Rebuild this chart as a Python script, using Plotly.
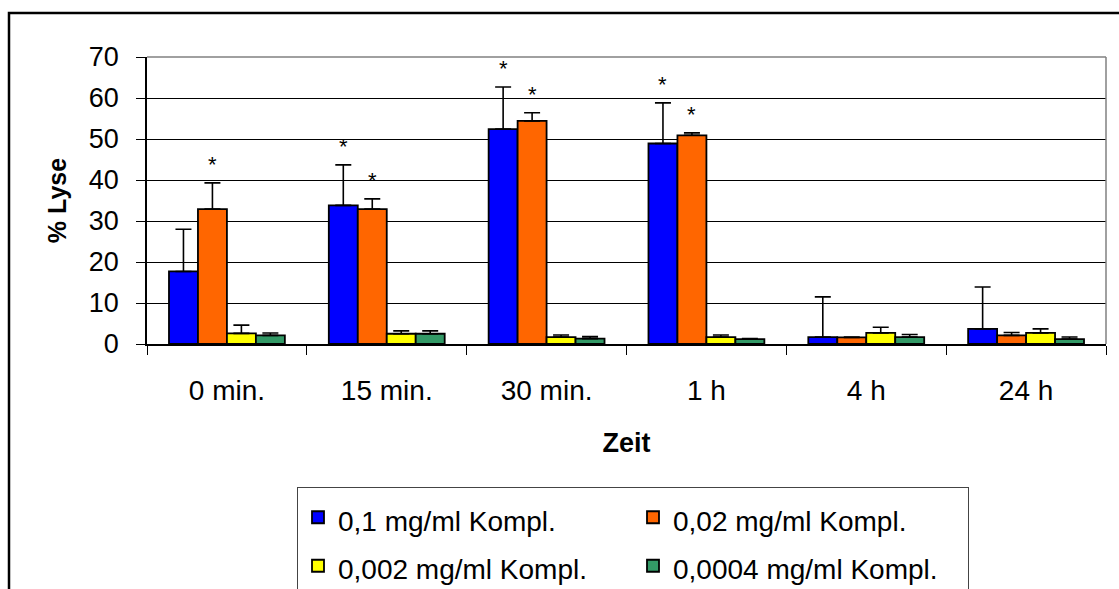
import plotly.graph_objects as go

categories = ["0 min.", "15 min.", "30 min.", "1 h", "4 h", "24 h"]
series_names = ["0,1 mg/ml Kompl.", "0,02 mg/ml Kompl.", "0,002 mg/ml Kompl.", "0,0004 mg/ml Kompl."]
colors = ["#0000FF", "#FF6600", "#FFFF00", "#339966"]

v_01 = [17.7, 33.8, 52.4, 48.9, 1.7, 3.7]
e_01 = [10.3, 9.9, 10.3, 9.9, 9.8, 10.2]
v_002 = [32.9, 32.9, 54.4, 50.9, 1.6, 2.1]
e_002 = [6.4, 2.5, 2.0, 0.6, 0.1, 0.7]
v_0002 = [2.6, 2.5, 1.7, 1.7, 2.7, 2.7]
e_0002 = [2.0, 0.7, 0.5, 0.5, 1.4, 1.0]
v_00004 = [2.1, 2.5, 1.3, 1.2, 1.7, 1.2]
e_00004 = [0.6, 0.7, 0.5, 0.1, 0.6, 0.5]

star_01 = [False, True, True, True, False, False]
star_002 = [True, True, True, True, False, False]
star_0002 = [False] * 6
star_00004 = [False] * 6

values = [v_01, v_002, v_0002, v_00004]
errors = [e_01, e_002, e_0002, e_00004]
stars = [star_01, star_002, star_0002, star_00004]

FONT = "Liberation Sans, Arial, sans-serif"
W, H = 1119, 589
ML, MR, MT, MB = 147, 13, 57, 245
BARGAP = 0.275
pw = W - ML - MR
ph = H - MT - MB

fig = go.Figure()
for k in range(4):
    fig.add_trace(go.Bar(
        x=categories, y=values[k],
        name=f"<span style='font-size:28px'>{series_names[k]}</span>",
        marker=dict(color=colors[k], line=dict(color="black", width=1.8)),
        error_y=dict(type="data", array=errors[k], arrayminus=[0] * 6, symmetric=False,
                     color="black", thickness=1.6, width=8),
    ))

bw = (1 - BARGAP) / 4
annotations = []
for k in range(4):
    for i in range(len(categories)):
        if stars[k][i]:
            annotations.append(dict(
                x=i + (k - 1.5) * bw, y=values[k][i] + errors[k][i],
                xref="x", yref="y", text="*", showarrow=False,
                font=dict(family=FONT, size=22, color="black"),
                yanchor="bottom", yshift=4,
            ))

px2x = lambda p: (p - ML) / pw
px2y = lambda p: (H - MB - p) / ph

shapes = [
    # outer chart frame (extends beyond picture on right/bottom)
    dict(type="rect", xref="paper", yref="paper", x0=px2x(9), x1=px2x(1135),
         y0=px2y(620), y1=px2y(13), line=dict(color="black", width=2.5), layer="below"),
    # plot area top and right border (gray)
    dict(type="line", xref="paper", yref="paper", x0=0, x1=1, y0=1, y1=1,
         line=dict(color="#808080", width=1.5), layer="above"),
    dict(type="line", xref="paper", yref="paper", x0=1, x1=1, y0=0, y1=1,
         line=dict(color="#808080", width=1.5), layer="above"),
]

fig.update_layout(
    width=W, height=H,
    margin=dict(l=ML, r=MR, t=MT, b=MB, pad=0, autoexpand=False),
    paper_bgcolor="white", plot_bgcolor="white",
    barmode="group", bargap=BARGAP, bargroupgap=0,
    font=dict(family=FONT, color="black", size=24),
    showlegend=True,
    legend=dict(
        orientation="h", x=px2x(297), y=px2y(487), xanchor="left", yanchor="top",
        entrywidth=290, entrywidthmode="pixels",
        bgcolor="white", bordercolor="#444444", borderwidth=1,
        font=dict(family=FONT, size=35, color="black"),
        traceorder="normal",
    ),
    annotations=annotations,
    shapes=shapes,
)

fig.update_xaxes(
    type="category", showline=True, linecolor="black", linewidth=1.5,
    ticks="outside", tickson="boundaries", ticklen=9, tickcolor="black", tickwidth=1,
    tickfont=dict(family=FONT, size=28), ticklabelstandoff=21,
    showgrid=False, zeroline=False,
    title=dict(text="<b>Zeit</b>", font=dict(family=FONT, size=27), standoff=28),
    automargin=False,
)
fig.update_yaxes(
    range=[0, 70], dtick=10, tick0=0,
    showline=True, linecolor="black", linewidth=1.5,
    ticks="outside", ticklen=9, tickcolor="black", tickwidth=1,
    tickfont=dict(family=FONT, size=27), ticklabelstandoff=12,
    showgrid=True, gridcolor="black", gridwidth=1, zeroline=False,
    title=dict(text="<b>% Lyse</b>", font=dict(family=FONT, size=25), standoff=15),
    automargin=False,
)

fig.write_html("out.html")
